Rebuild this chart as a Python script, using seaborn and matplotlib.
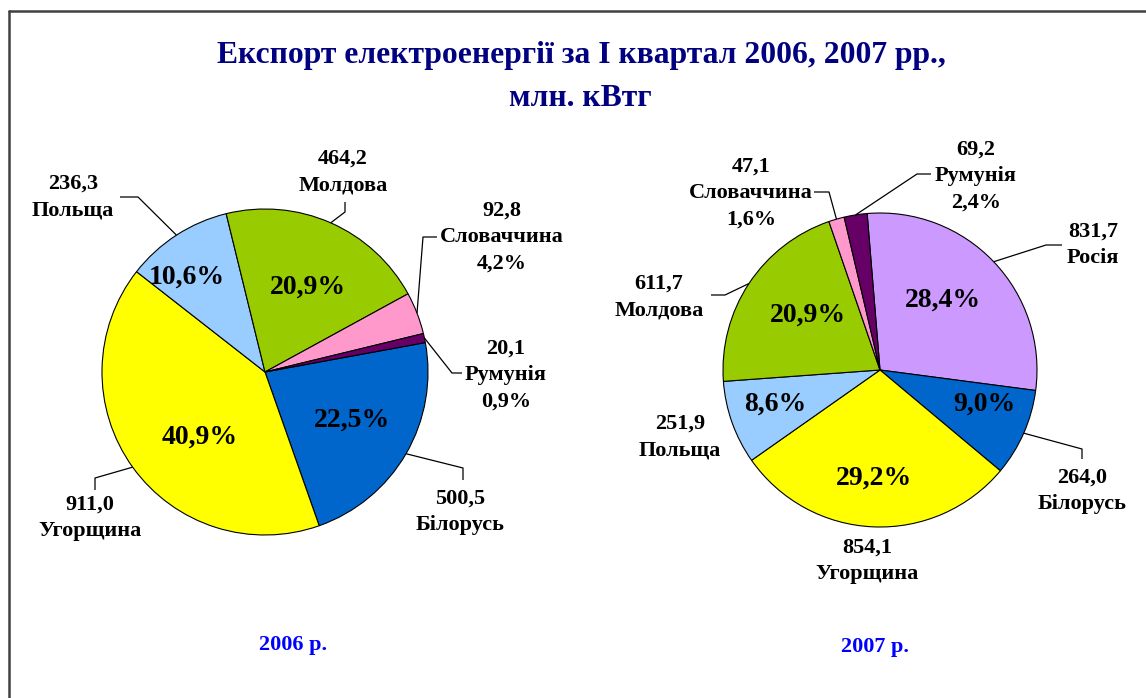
import numpy as np
import matplotlib
matplotlib.use("Agg")
import matplotlib.pyplot as plt
import seaborn as sns
from matplotlib.lines import Line2D

# ---------------- data ----------------
countries_2006 = ["Білорусь", "Угорщина", "Польща", "Молдова", "Словаччина", "Румунія"]
values_2006 = [500.5, 911.0, 236.3, 464.2, 92.8, 20.1]

countries_2007 = ["Росія", "Білорусь", "Угорщина", "Польща", "Молдова", "Словаччина", "Румунія"]
values_2007 = [831.7, 264.0, 854.1, 251.9, 611.7, 47.1, 69.2]

title_lines = ["Експорт електроенергії за І квартал 2006, 2007 рр.,", "млн. кВтг"]
year_labels = ["2006 р.", "2007 р."]

# ---------------- style ----------------
sns.set_theme(style="white")
plt.rcParams["font.family"] = ["Liberation Serif", "DejaVu Serif"]
plt.rcParams["font.weight"] = "bold"

colors = {
    "Білорусь": "#0066CC",
    "Угорщина": "#FFFF00",
    "Польща": "#99CCFF",
    "Молдова": "#99CC00",
    "Словаччина": "#FF99CC",
    "Румунія": "#660066",
    "Росія": "#CC99FF",
}

W, H = 1146, 698
fig = plt.figure(figsize=(W / 100, H / 100), dpi=100)
fig.patch.set_facecolor("white")
ax = fig.add_axes([0, 0, 1, 1])


def P(x, y):
    return (x, H - y)


def fmt(v, nd=1):
    return f"{v:.{nd}f}".replace(".", ",")


# layout (pixel coordinates of the reference)
pies = [
    dict(names=countries_2006, vals=values_2006, center=(265, 372), radius=163, start=10.4,
         pct_in={"Білорусь": (352, 420), "Угорщина": (200, 437), "Польща": (187, 277), "Молдова": (308, 287)},
         outer={"Польща": (73, 197), "Молдова": (343, 172), "Словаччина": (502, 237),
                "Румунія": (506, 375), "Білорусь": (460, 512), "Угорщина": (90, 518)},
         leaders={"Польща": [(138, 197), (120, 197)], "Молдова": [(345, 212), (345, 202)],
                  "Словаччина": [(423, 237), (437, 237)], "Румунія": [(452, 373), (462, 373)],
                  "Білорусь": [(463, 468), (463, 480)], "Угорщина": [(95, 478), (95, 490)]},
         small={"Словаччина", "Румунія"}),
    dict(names=countries_2007, vals=values_2007, center=(880, 370), radius=157, start=94.7,
         pct_in={"Росія": (943, 300), "Білорусь": (984, 404), "Угорщина": (874, 478),
                 "Польща": (775, 404), "Молдова": (808, 315)},
         outer={"Румунія": (976, 176), "Словаччина": (751, 193), "Росія": (1093, 245),
                "Молдова": (659, 297), "Польща": (680, 437), "Білорусь": (1082, 491),
                "Угорщина": (867, 561)},
         leaders={"Румунія": [(917, 174), (931, 174)], "Словаччина": [(829, 192), (814, 192)],
                  "Молдова": [(725, 295), (711, 295)], "Росія": [(1046, 245), (1062, 245)],
                  "Білорусь": [(1082, 449), (1082, 459)]},
         small={"Словаччина", "Румунія"}),
]

for p in pies:
    vals = np.array(p["vals"])
    total = vals.sum()
    wedges, _ = ax.pie(vals, colors=[colors[n] for n in p["names"]], startangle=p["start"],
                       counterclock=False, center=P(*p["center"]), radius=p["radius"],
                       wedgeprops=dict(edgecolor="black", linewidth=0.8))
    for w, name, v in zip(wedges, p["names"], vals):
        pct = 100 * v / total
        if name in p["pct_in"]:
            x, y = p["pct_in"][name]
            ax.text(*P(x, y), fmt(pct) + "%", ha="center", va="center", fontsize=20,
                    fontweight="bold", color="black")
        lines = [fmt(v), name]
        if name in p["small"]:
            lines.append(fmt(pct) + "%")
        x, y = p["outer"][name]
        ax.text(*P(x, y), "\n".join(lines), ha="center", va="center", fontsize=16,
                fontweight="bold", color="black", linespacing=1.42)
        if name in p["leaders"]:
            mid = np.deg2rad((w.theta1 + w.theta2) / 2)
            cx, cy = w.center
            sx, sy = cx + w.r * np.cos(mid), cy + w.r * np.sin(mid)
            pts = [(sx, sy)] + [P(*q) for q in p["leaders"][name]]
            xs, ys = zip(*pts)
            ax.plot(xs, ys, color="black", linewidth=0.9, solid_capstyle="butt")

ax.set_xlim(0, W)
ax.set_ylim(0, H)
ax.set_aspect("auto")
ax.axis("off")

# title
ax.text(*P(581, 55), title_lines[0], ha="center", va="center", fontsize=22.8,
        fontweight="bold", color="#000080")
ax.text(*P(580, 98), title_lines[1], ha="center", va="center", fontsize=22.8,
        fontweight="bold", color="#000080")

# year captions
ax.text(*P(293, 645), year_labels[0], ha="center", va="center", fontsize=16,
        fontweight="bold", color="#0000FF")
ax.text(*P(875, 647), year_labels[1], ha="center", va="center", fontsize=16,
        fontweight="bold", color="#0000FF")

# chart-area frame (top and left edges)
fig.add_artist(Line2D([9 / W, 9 / W], [0, 1 - 11 / H], transform=fig.transFigure,
                      color="#404040", linewidth=1.8))
fig.add_artist(Line2D([9 / W, 1], [1 - 11 / H, 1 - 11 / H], transform=fig.transFigure,
                      color="#404040", linewidth=1.8))

fig.savefig("out.png", dpi=100, facecolor="white")
